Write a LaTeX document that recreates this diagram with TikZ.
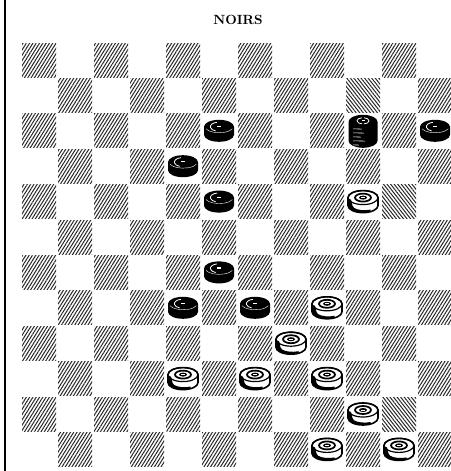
\documentclass[tikz,border=0pt]{standalone}
\usetikzlibrary{patterns.meta}
\begin{document}
\begin{tikzpicture}[x=0.75pt,y=-0.75pt,
  hatch/.style={pattern={Lines[angle=58,distance=2.1pt,line width=0.75pt]},pattern color=black!85},
  rhatch/.style={pattern={Lines[angle=-52,distance=2.1pt,line width=0.75pt]},pattern color=black!85},
  blackpiece/.pic={
    \fill[black] (-15,-4) -- (-15,4) arc[start angle=180,end angle=0,x radius=15,y radius=7]
      -- (15,-4) arc[start angle=0,end angle=-180,x radius=15,y radius=7] -- cycle;
    \draw[white,line width=0.6pt] (-2,-8.5) arc[start angle=-100,end angle=-250,x radius=8,y radius=4.5];
    \draw[white,line width=0.3pt] (-13,-2) arc[start angle=160,end angle=20,x radius=14,y radius=6];
    \draw[white,line width=0.9pt] (-2,-4.5) -- (2,-4.5);
  },
  whitepiece/.pic={
    \filldraw[fill=white,draw=black,line width=1.2pt] (-15,-4) -- (-15,4) arc[start angle=180,end angle=0,x radius=15,y radius=7]
      -- (15,-4) arc[start angle=0,end angle=-180,x radius=15,y radius=7] -- cycle;
    \fill[black] (-15,-3) -- (-15,4) arc[start angle=180,end angle=60,x radius=15,y radius=7]
      -- (7.5,8) arc[start angle=60,end angle=180,x radius=12,y radius=4.5] -- (-12,-2) -- cycle;
    \draw[line width=0.9pt] (0,-4) ellipse[x radius=15,y radius=7];
    \draw[line width=1.3pt] (0,-4) ellipse[x radius=8,y radius=4];
    \fill (0,-4) ellipse[x radius=4,y radius=2];
    \draw[white,line width=0.6pt] (-2,-4) -- (2,-4);
  },
  kingpiece/.pic={
    \fill[black] (-14.5,-9) -- (-14.5,10) arc[start angle=180,end angle=0,x radius=14.5,y radius=7]
      -- (14.5,-9) arc[start angle=0,end angle=-180,x radius=14.5,y radius=7] -- cycle;
    \draw[white,line width=0.6pt] (-1,-13) arc[start angle=-90,end angle=-270,x radius=5,y radius=3];
    \draw[white,line width=0.6pt] (1,-13) arc[start angle=-90,end angle=90,x radius=5,y radius=3];
    \draw[white,line width=0.9pt] (-1.5,-10) -- (1.5,-10);
    \foreach \yy/\ll in {-2/9,2/11,6/8,10/12,14/6}
      \draw[white,line width=0.45pt] (-10,\yy) -- ++(\ll,0.3);
  }]
\useasboundingbox (0,0) rectangle (450,471);
\fill[white] (0,0) rectangle (450,471);
\draw[line width=1.5pt] (5,0) -- (5,471);
\node[font=\bfseries\fontsize{10}{12}\selectfont,inner sep=0pt] (title) at (238,20) {NOIRS};
\foreach \r in {1,...,12}{
  \foreach \c in {0,...,11}{
    \pgfmathtruncatemacro\odd{mod(\r+\c,2)}
    \pgfmathtruncatemacro\rev{(\r==2)*(\c==9)+(\r==5)*(\c==10)+(\r==11)*(\c==10)}
    \pgfmathsetmacro\xx{22+36*\c}
    \pgfmathsetmacro\yy{43+35.4*(\r-1)}
    \ifnum\odd=1
      \ifnum\rev=1
        \path[rhatch] (\xx,\yy) rectangle ++(34,34);
      \else
        \path[hatch] (\xx,\yy) rectangle ++(34,34);
      \fi
    \fi
  }
}
\foreach \r/\c in {3/5,4/4,5/5,7/5,8/4,8/6,3/11}
  \pic (b\r-\c) at ({39+36*\c},{60+35.4*(\r-1)}) {blackpiece};
\pic (k3-9) at ({39+36*9},{60+35.4*2}) {kingpiece};
\foreach \r/\c in {5/9,8/8,9/7,10/4,10/6,10/8,11/9,12/8,12/10}
  \pic (w\r-\c) at ({39+36*\c},{60+35.4*(\r-1)}) {whitepiece};
\end{tikzpicture}
\end{document}
